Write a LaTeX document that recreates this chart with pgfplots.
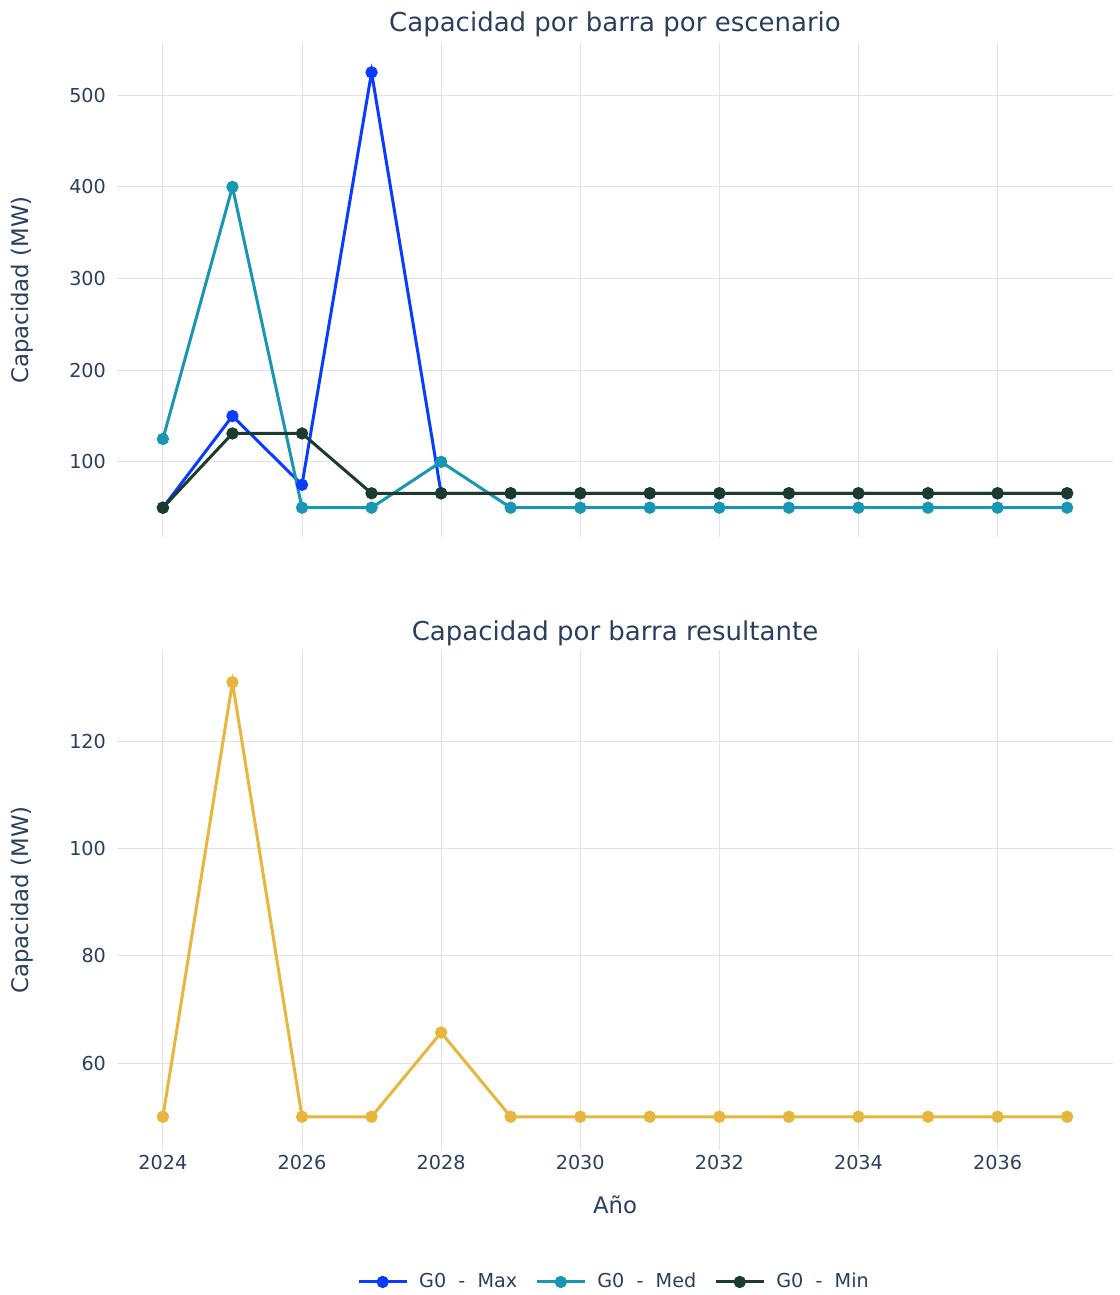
\documentclass[border=0pt]{standalone}
\usepackage{fontspec}
\setmainfont{DejaVu Sans}
\usepackage{pgfplots}
\pgfplotsset{compat=1.18}
\definecolor{txt}{HTML}{2A3F5F}
\definecolor{cmax}{HTML}{0A3CFF}
\definecolor{cmed}{HTML}{1797B3}
\definecolor{cmin}{HTML}{1B3B2C}
\definecolor{cres}{HTML}{E8B53D}
\definecolor{grd}{HTML}{E2E2E2}
\pgfplotsset{
 base/.style={
  scale only axis, width=498pt,
  xmin=2023.34, xmax=2037.66,
  xtick={2024,2026,...,2036},
  grid=major, major grid style={grd, line width=0.5pt},
  axis line style={draw=none}, major tick length=0pt,
  tick label style={font=\fontsize{9.6}{11}\selectfont, text=txt},
  /pgf/number format/assume math mode=true,
  /pgf/number format/1000 sep={},
  yticklabel style={anchor=east, xshift=-2pt},
  label style={font=\fontsize{11.4}{13}\selectfont, text=txt},
  ylabel style={at={(axis description cs:-0.0954,0.5)}, anchor=center},
  every axis plot/.append style={line width=1.5pt, mark=*, mark size=2.3pt},
  legend image code/.code={\draw[mark repeat=2,mark phase=2,#1] plot coordinates {(0pt,0pt) (12pt,0pt) (24pt,0pt)};},
 }
}
\begin{document}
\begin{tikzpicture}
\useasboundingbox (0,0) rectangle (559.5pt,-647.5pt);
\begin{axis}[base,
  at={(58.5pt,-268.5pt)}, anchor=south west,
  height=247pt,
  ymin=18, ymax=557, ytick={100,200,300,400,500},
  xticklabels={},
  ylabel={Capacidad (MW)},
  title={Capacidad por barra por escenario},
  title style={at={(0.5,1)}, anchor=center, yshift=3.5pt, font=\fontsize{13}{15}\selectfont, text=txt},
  legend style={at={(0.5,-1.508)}, anchor=center, draw=none, fill=none,
    legend columns=-1, font=\fontsize{9.6}{11}\selectfont, text=txt,
    /tikz/every odd column/.append style={column sep=3.5pt},
    /tikz/every even column/.append style={column sep=7pt}},
]
\addplot[cmax, mark options={fill=cmax}] coordinates {
(2024,50) (2025,150) (2026,75) (2027,525) (2028,65.7) (2029,65.7) (2030,65.7) (2031,65.7) (2032,65.7) (2033,65.7) (2034,65.7) (2035,65.7) (2036,65.7) (2037,65.7)};
\addlegendentry{G0\ \ -\ \ Max}
\addplot[cmed, mark options={fill=cmed}] coordinates {
(2024,125) (2025,400) (2026,50) (2027,50) (2028,100) (2029,50) (2030,50) (2031,50) (2032,50) (2033,50) (2034,50) (2035,50) (2036,50) (2037,50)};
\addlegendentry{G0\ \ -\ \ Med}
\addplot[cmin, mark options={fill=cmin}] coordinates {
(2024,50) (2025,131) (2026,131) (2027,65.7) (2028,65.7) (2029,65.7) (2030,65.7) (2031,65.7) (2032,65.7) (2033,65.7) (2034,65.7) (2035,65.7) (2036,65.7) (2037,65.7)};
\addlegendentry{G0\ \ -\ \ Min}
\end{axis}
\begin{axis}[base,
  at={(58.5pt,-575pt)}, anchor=south west,
  height=250pt,
  ymin=43.8, ymax=137, ytick={60,80,100,120},
  xticklabel style={anchor=center, yshift=-6pt},
  ylabel={Capacidad (MW)},
  xlabel={Año},
  xlabel style={at={(axis description cs:0.5,-0.11)}, anchor=center},
  title={Capacidad por barra resultante},
  title style={at={(0.5,1)}, anchor=center, yshift=2.5pt, font=\fontsize{13}{15}\selectfont, text=txt},
]
\addplot[cres, mark options={fill=cres}] coordinates {
(2024,50) (2025,131) (2026,50) (2027,50) (2028,65.7) (2029,50) (2030,50) (2031,50) (2032,50) (2033,50) (2034,50) (2035,50) (2036,50) (2037,50)};
\end{axis}
\end{tikzpicture}
\end{document}
